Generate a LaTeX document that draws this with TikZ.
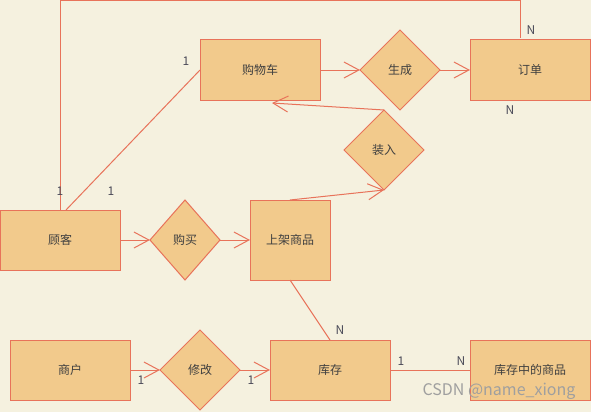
\documentclass[tikz,border=0pt]{standalone}
\usepackage{fontspec}
\setmainfont{Noto Sans CJK SC}
\usepackage{tikz}
\usetikzlibrary{arrows.meta,shapes.geometric,positioning}

\definecolor{paper}{HTML}{F5F1DF}
\definecolor{boxfill}{HTML}{F2CA8C}
\definecolor{boxline}{HTML}{E8735A}
\definecolor{ink}{HTML}{404040}
\definecolor{cardink}{HTML}{4A4A58}

\begin{document}
\begin{tikzpicture}[x=1pt,y=-1pt,>={Straight Barb[length=15pt,width=16pt]},node distance=30pt,
    entity/.style={draw=boxline,fill=boxfill,line width=1pt,minimum width=120pt,minimum height=60pt,inner sep=0pt,outer sep=0pt,text=ink,font=\fontsize{12}{14}\selectfont},
    relation/.style={diamond,draw=boxline,fill=boxfill,line width=1pt,minimum width=80pt,minimum height=80pt,inner sep=0pt,outer sep=0pt,text=ink,font=\fontsize{12}{14}\selectfont},
    card/.style={inner sep=0pt,text=cardink,font=\fontsize{12}{14}\selectfont},
    every edge/.style={draw=boxline,line width=1pt}]

\fill[paper] (0,0) rectangle (591,412);
\useasboundingbox (0,0) rectangle (591,412);

\node[entity] (GWC)                        at (260,70)  {购物车};
\node[relation] (SC)   [right=40pt of GWC]              {生成};
\node[entity] (DD)     [right=of SC]                    {订单};

\node[relation] (ZR)                       at (384,150) {装入};

\node[entity] (GK)                         at (60,240)  {顾客};
\node[relation, minimum width=70pt] (GM) [right=of GK]  {购买};
\node[entity, minimum width=80pt, minimum height=80pt] (SJ) [right=of GM] {上架商品};

\node[entity] (SH)                         at (70,370)  {商户};
\node[relation] (XG)   [right=of SH]                    {修改};
\node[entity] (KC)     [right=of XG]                    {库存};
\node[entity] (KCSP)   [right=80pt of KC]               {库存中的商品};

\coordinate (GKtop)  at (66,210);
\coordinate (GWCin)  at (272,103);
\coordinate (DDtop)  at (520,38);
\coordinate (ceil)   at (0,1);

\path (GWC) edge[->] (SC)
      (SC)  edge[->] (DD)
      (GK)  edge[->] (GM)
      (GM)  edge[->] (SJ)
      (SH)  edge[->] (XG)
      (XG)  edge[->] (KC);

\path (SJ.north) edge[->] (ZR.south)
      (ZR.north) edge[->] (GWCin);

\path (GKtop)    edge (GWC.west)
      (SJ.south) edge (KC.north)
      (KC)       edge (KCSP);

\draw[boxline, line width=1pt] (GK.north) |- (ceil -| DDtop) -- (DDtop);

\node[card] (c1) at (186,61)  {1};
\node[card] (c2) at (60,191)  {1};
\node[card] (c3) at (111,191) {1};
\node[card] (c4) at (531,30)  {N};
\node[card] (c5) at (510,110) {N};
\node[card] (c6) at (340,330) {N};
\node[card] (c7) at (141,380) {1};
\node[card] (c8) at (251,380) {1};
\node[card] (c9) at (401,361) {1};
\node[card] (c10) at (461,361) {N};

\node[text=gray!75, font=\fontsize{16}{18}\selectfont] (mark) at (499,391) {CSDN @name\_xiong};

\end{tikzpicture}
\end{document}
